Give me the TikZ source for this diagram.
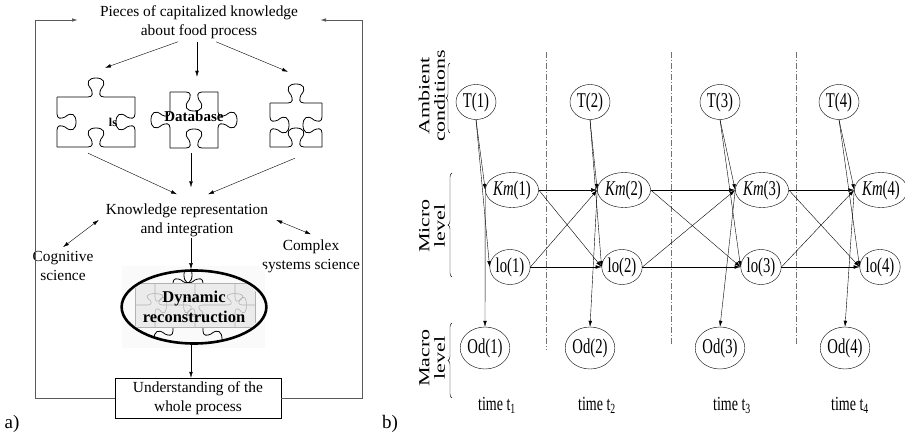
\documentclass[tikz,border=0pt]{standalone}
\usepackage{fontspec}
\setmainfont{Liberation Serif}
\newfontfamily\narrowfont[FakeStretch=0.7]{Liberation Serif}
\usetikzlibrary{arrows.meta,shapes,decorations.pathreplacing}

% one side of a jigsaw piece: #1 length, #2 tab (1 out, -1 in, 0 flat)
\newcommand\jside[2]{(0,0) -- ({#1/2-8},0) .. controls ({#1/2-3},0) and ({#1/2-3},{-4*(#2)}) .. ({#1/2-5},{-8*(#2)}) .. controls ({#1/2-11},{-15*(#2)}) and ({#1/2-7},{-19*(#2)}) .. ({#1/2},{-19*(#2)}) .. controls ({#1/2+7},{-19*(#2)}) and ({#1/2+11},{-15*(#2)}) .. ({#1/2+5},{-8*(#2)}) .. controls ({#1/2+3},{-4*(#2)}) and ({#1/2+3},0) .. ({#1/2+8},0) -- (#1,0)}

% piece: width, height, tabs top/right/bottom/left
\tikzset{
  pics/piece/.style n args={6}{code={
    \draw[pzl,shift={({-#1/2},{-#2/2})}] \jside{#1}{#3};
    \draw[pzl,shift={({#1/2},{-#2/2})},rotate=-90] \jside{#2}{#4};
    \draw[pzl,shift={({#1/2},{#2/2})},rotate=180] \jside{#1}{#5};
    \draw[pzl,shift={({-#1/2},{#2/2})},rotate=90] \jside{#2}{#6};
  }}
}

\begin{document}
\begin{tikzpicture}[x=1pt,y=-1pt,>={Latex[length=6pt,width=3.6pt]},thin]
\tikzstyle{txt}=[align=center,inner sep=1pt,font=\fontsize{15.4}{19}\selectfont]
\tikzstyle{pz}=[inner sep=0pt]
\tikzstyle{pzl}=[line width=0.8pt,line join=round]
\tikzstyle{pzg}=[black!30,line width=0.6pt]
\tikzstyle{fback}=[->,black!65,line width=0.9pt]
\tikzstyle{var}=[ellipse,draw,inner sep=0pt,minimum width=40pt,minimum height=35pt,font=\narrowfont\fontsize{21}{24}\selectfont]
\tikzstyle{tlab}=[font=\narrowfont\fontsize{20}{22}\selectfont]
\tikzstyle{tsep}=[black!55,dash pattern=on 6pt off 2pt on 1pt off 2pt]
\tikzstyle{brc}=[decorate,decoration={brace,amplitude=4pt}]
\tikzstyle{lvl}=[rotate=90,inner sep=0pt,font=\fontsize{22}{22}\selectfont]

\useasboundingbox (0,0) rectangle (905,436);

%% a) pieces of knowledge
\pic at (96,122) {piece={78}{50}{1}{-1}{-1}{-1}};
\pic at (194,120) {piece={48}{56}{-1}{1}{-1}{1}};
\pic at (296,125) {piece={52}{44}{1}{-1}{-1}{-1}};

\node[txt] (pieces) at (199,22) {Pieces of capitalized knowledge\\about food process};
\node[pz,minimum width=78pt,minimum height=50pt] (models) at (96,122) {};
\node[pz,font=\bfseries\fontsize{12}{12}\selectfont] (lstxt) at (113,122) {ls};
\node[pz,minimum width=48pt,minimum height=60pt,font=\bfseries\fontsize{15}{18}\selectfont] (db) at (194,116) {Database};
\node[pz,minimum width=52pt,minimum height=44pt] (piecec) at (296,125) {};
\node[txt] (repr) at (187,220) {Knowledge representation\\and integration};
\node[txt] (cog) at (63,266) {Cognitive\\science};
\node[txt] (cplx) at (311,256) {Complex\\systems science};

% puzzle behind the reconstruction
\fill[black!2] (122,266) rectangle (265,348);
\begin{scope}
\clip (194,307) ellipse [x radius=68pt,y radius=37pt];
\draw[pzl,shift={(173,258)},rotate=-90] \jside{34}{1};
\draw[pzl,shift={(203,258)},rotate=-90] \jside{34}{-1};
\draw[pzl,shift={(173,322)},rotate=-90] \jside{34}{-1};
\draw[pzl,shift={(203,322)},rotate=-90] \jside{34}{1};
\fill[black!8] (135,283) rectangle (255,327);
\draw[pzg] (135,283) rectangle (255,327);
\draw[pzg,shift={(135,305)}] \jside{40}{0.6};
\draw[pzg,shift={(175,305)}] \jside{40}{-0.6};
\draw[pzg,shift={(215,305)}] \jside{40}{0.6};
\draw[pzg,shift={(155,283)},rotate=-90] \jside{44}{0.6};
\draw[pzg,shift={(195,283)},rotate=-90] \jside{44}{-0.6};
\draw[pzg,shift={(235,283)},rotate=-90] \jside{44}{0.6};
\end{scope}
\node[ellipse,draw,line width=2.6pt,minimum width=136pt,minimum height=73pt,inner sep=0pt,align=center,font=\bfseries\fontsize{16.5}{20}\selectfont] (dyn) at (194,307) {Dynamic\\reconstruction};

\node[txt,draw,minimum width=166pt,minimum height=40pt] (under) at (198,398) {Understanding of the\\whole process};

\coordinate (lcorner) at (35,20);
\coordinate (ltip) at (78,20);
\coordinate (rcorner) at (362,20);
\coordinate (rtip) at (320,20);
\draw[fback] (under.west) -| (lcorner) -- (ltip);
\draw[fback] (under.east) -| (rcorner) -- (rtip);

\draw[->] ([xshift=-21pt,yshift=-2pt]pieces.south) -- ([xshift=9pt,yshift=29pt]models.north);
\draw[->] ([xshift=-2pt,yshift=-2pt]pieces.south) -- ([xshift=3pt,yshift=9pt]db.north);
\draw[->] ([xshift=17pt,yshift=-2pt]pieces.south) -- ([xshift=-8pt,yshift=31pt]piecec.north);
\draw[->] ([xshift=-8pt,yshift=-6pt]models.south) -- ([xshift=-10pt,yshift=8pt]repr.north);
\draw[->] ([xshift=-3pt,yshift=-7pt]db.south) -- ([xshift=4pt,yshift=15pt]repr.north);
\draw[->] ([xshift=-1pt,yshift=-11pt]piecec.south) -- ([xshift=21pt,yshift=8pt]repr.north);
\draw[<->] ([yshift=3pt]cog.north) -- ([xshift=-6pt]repr.west);
\draw[<->] ([xshift=7pt]repr.east) -- ([yshift=4pt]cplx.north);
\draw[->] ([xshift=4pt]repr.south) -- ([xshift=-3pt]dyn.north);
\draw[->] ([xshift=-3pt]dyn.south) -- ([xshift=-7pt]under.north);

\node[font=\fontsize{19}{19}\selectfont] (la) at (12,424) {a)};
\node[font=\fontsize{19}{19}\selectfont] (lb) at (390,424) {b)};

%% b) dynamic network
\draw[tsep] (546,52) -- (546,350);
\draw[tsep] (671,52) -- (671,345);
\draw[tsep] (796,52) -- (796,345);

\node[var] (T1) at (476,102) {T(1)};
\node[var] (T2) at (590,102) {T(2)};
\node[var] (T3) at (720,102) {T(3)};
\node[var] (T4) at (839,102) {T(4)};
\node[var] (Km1) at (512,190) {\textit{Km}(1)};
\node[var] (Km2) at (624,190) {\textit{Km}(2)};
\node[var] (Km3) at (762,190) {\textit{Km}(3)};
\node[var] (Km4) at (881,190) {\textit{Km}(4)};
\node[var] (lo1) at (510,267) {lo(1)};
\node[var] (lo2) at (622,267) {lo(2)};
\node[var] (lo3) at (761,267) {lo(3)};
\node[var] (lo4) at (880,267) {lo(4)};
\node[var,minimum height=42pt] (Od1) at (485,348) {Od(1)};
\node[var,minimum height=42pt] (Od2) at (590,348) {Od(2)};
\node[var,minimum height=42pt] (Od3) at (720,348) {Od(3)};
\node[var,minimum height=42pt] (Od4) at (845,348) {Od(4)};

\node[tlab] (t1) at (497,405) {time t\textsubscript{1}};
\node[tlab] (t2) at (597,405) {time t\textsubscript{2}};
\node[tlab] (t3) at (732,405) {time t\textsubscript{3}};
\node[tlab] (t4) at (850,405) {time t\textsubscript{4}};

\path[->]
(T1.south) edge (Km1.west)
(T1.south) edge (lo1.west)
(Km1.west) edge (Od1.north)
(T2.south) edge (Km2.west)
(T2.south) edge (lo2.west)
(Km2.west) edge (Od2.north)
(T3.south) edge (Km3.west)
(T3.south) edge (lo3.west)
(Km3.west) edge (Od3.north)
(T4.south) edge (Km4.west)
(T4.south) edge (lo4.west)
(Km4.west) edge (Od4.north)
(Km1.east) edge (Km2.west)
(Km1.east) edge (lo2.west)
(lo1.east) edge (Km2.west)
(lo1.east) edge (lo2.west)
(Km2.east) edge (Km3.west)
(Km2.east) edge (lo3.west)
(lo2.east) edge (Km3.west)
(lo2.east) edge (lo3.west)
(Km3.east) edge (Km4.west)
(Km3.east) edge (lo4.west)
(lo3.east) edge (Km4.west)
(lo3.east) edge (lo4.west)
;

\draw[brc] (450,133) -- (450,63);
\draw[brc] (452,277) -- (452,173);
\draw[brc] (452,398) -- (452,323);
\node[lvl] (amb) at (434,96) {\scalebox{1}[0.7]{\begin{tabular}{@{}c@{}}Ambient\\conditions\end{tabular}}};
\node[lvl] (micro) at (434,226) {\scalebox{1}[0.7]{\begin{tabular}{@{}c@{}}Micro\\level\end{tabular}}};
\node[lvl] (macro) at (434,358) {\scalebox{1}[0.7]{\begin{tabular}{@{}c@{}}Macro\\level\end{tabular}}};
\end{tikzpicture}
\end{document}
